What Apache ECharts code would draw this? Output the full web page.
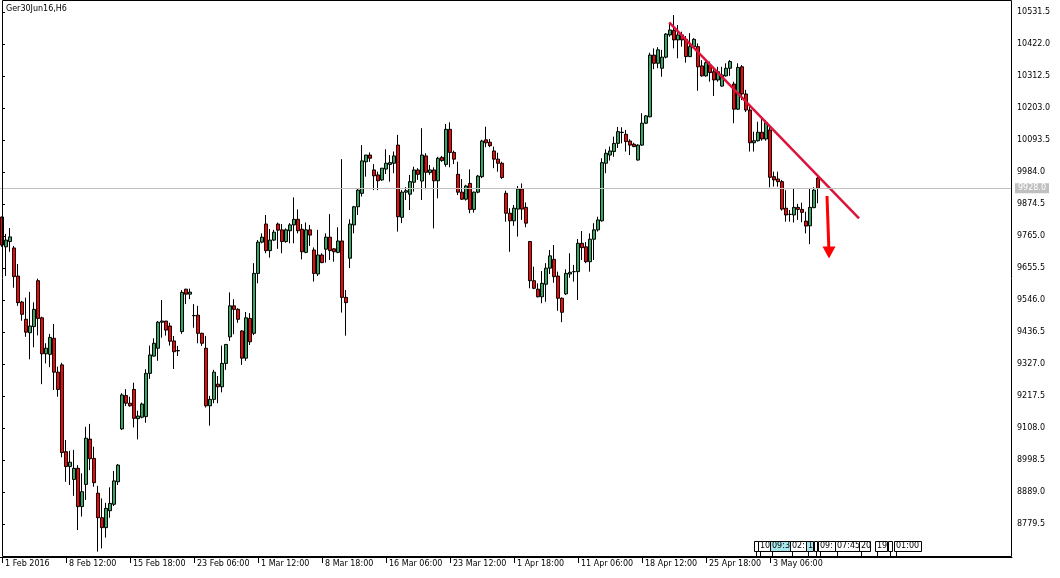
<!DOCTYPE html>
<html><head><meta charset="utf-8">
<script src="https://cdn.jsdelivr.net/npm/echarts@6/dist/echarts.min.js"></script>
<style>html,body{margin:0;padding:0;background:#fff}#c{width:1060px;height:578px}</style>
</head><body><div id="c"></div>
<script>
const chartTitle = "Ger30Jun16,H6";
const tickLabels = ["1 Feb 2016","8 Feb 12:00","15 Feb 18:00","23 Feb 06:00","1 Mar 12:00","8 Mar 18:00","16 Mar 06:00","23 Mar 12:00","1 Apr 18:00","11 Apr 06:00","18 Apr 12:00","25 Apr 18:00","3 May 06:00"];
const barsPerLabel = 16;
const slotCount = 253;
const yTicks = [8779.5,8889.0,8998.5,9108.0,9217.5,9327.0,9436.5,9546.0,9655.5,9765.0,9874.5,9984.0,10093.5,10203.0,10312.5,10422.0,10531.5];
const yMin = 8666.58, yMax = 10569.14;
const lastPrice = 9928.0;
// [open, close, low, high]
const ohlc = [
[9830,9734,9728,9831],[9728,9751,9628,9772],[9746,9762,9711,9792],[9724,9626,9588,9731],[9628,9537,9526,9669],
[9539,9497,9475,9543],[9480,9436,9420,9554],[9434,9457,9343,9574],[9455,9514,9384,9538],[9612,9483,9425,9619],
[9485,9362,9258,9489],[9362,9381,9329,9398],[9360,9418,9316,9430],[9415,9299,9238,9464],[9299,9240,9215,9318],
[9324,9024,9008,9331],[9027,8976,8924,9067],[8976,8991,8913,9030],[8932,8970,8876,9033],[8970,8839,8759,8981],
[8839,8890,8805,8953],[8915,9073,8862,9112],[9070,9003,8964,9122],[9004,8921,8907,9044],[8885,8801,8685,8910],
[8801,8767,8696,8867],[8767,8833,8733,8852],[8825,8850,8801,8905],[8847,8927,8841,8961],[8924,8981,8913,8985],
[9105,9221,9101,9227],[9219,9193,9183,9241],[9193,9184,9181,9215],[9240,9141,9110,9263],[9140,9149,9069,9167],
[9145,9190,9141,9195],[9147,9295,9126,9309],[9295,9358,9276,9390],[9354,9398,9352,9415],[9381,9470,9338,9474],
[9470,9474,9417,9546],[9474,9443,9424,9474],[9457,9405,9390,9468],[9406,9369,9310,9423],[9373,9372,9354,9389],
[9438,9572,9430,9580],[9583,9566,9532,9584],[9566,9573,9549,9585],[9492,9493,9451,9532],[9494,9432,9398,9526],
[9432,9398,9389,9434],[9381,9184,9178,9423],[9184,9206,9116,9218],[9206,9299,9193,9307],[9258,9249,9193,9286],
[9249,9329,9230,9390],[9329,9394,9307,9395],[9420,9526,9406,9572],[9526,9514,9429,9549],[9514,9480,9468,9518],
[9440,9347,9324,9443],[9347,9485,9338,9505],[9483,9403,9392,9501],[9432,9637,9426,9672],[9637,9744,9603,9751],
[9744,9761,9740,9774],[9806,9715,9706,9837],[9715,9751,9691,9789],[9751,9778,9748,9786],[9806,9785,9721,9811],
[9786,9746,9706,9806],[9746,9786,9742,9791],[9783,9803,9740,9809],[9803,9822,9740,9897],[9822,9783,9774,9856],
[9788,9711,9685,9806],[9709,9786,9706,9811],[9786,9768,9731,9803],[9717,9637,9609,9726],[9635,9700,9628,9786],
[9700,9674,9672,9706],[9720,9761,9674,9774],[9761,9715,9683,9840],[9721,9711,9677,9723],[9709,9748,9706,9795],
[9748,9555,9503,10028],[9555,9537,9424,9580],[9689,9806,9655,9822],[9803,9865,9774,9868],[9865,9922,9837,9928],
[9911,10022,9900,10076],[10019,10042,9968,10042],[10042,10031,10019,10051],[9991,9971,9922,10011],[9974,9954,9922,9985],
[9957,9997,9954,9997],[9994,10014,9977,10062],[10010,10016,9951,10042],[10014,10039,9980,10054],[10076,9831,9780,10111],
[9829,9915,9809,9922],[9915,9920,9888,9932],[9908,9951,9854,9974],[9949,9991,9917,10002],[9991,9976,9957,9997],
[9953,10042,9888,10134],[10039,9983,9925,10048],[9982,9991,9974,10008],[9991,9954,9791,10000],[9954,10031,9894,10036],
[10034,10023,10019,10039],[10010,10130,10002,10148],[10130,10051,10000,10154],[10051,10028,10011,10057],[9976,9915,9905,10019],
[9915,9891,9888,9960],[9891,9936,9886,9940],[9945,9856,9843,9993],[9856,9915,9845,9917],[9915,9970,9911,9974],
[9968,10090,9963,10094],[10094,10084,10069,10139],[10086,10074,10069,10097],[10056,10028,9997,10071],[10028,10014,9985,10050],
[10014,9965,9960,10019],[9911,9843,9814,9920],[9843,9817,9711,9860],[9817,9860,9800,9871],[9857,9926,9763,9936],
[9926,9857,9820,9945],[9863,9809,9795,9880],[9746,9612,9586,9748],[9612,9586,9583,9660],[9583,9557,9555,9603],
[9557,9603,9535,9645],[9600,9655,9540,9672],[9655,9697,9635,9717],[9685,9626,9605,9734],[9628,9552,9509,9643],
[9552,9504,9470,9555],[9567,9637,9563,9651],[9635,9641,9622,9706],[9643,9643,9609,9666],[9643,9740,9546,9755],
[9740,9725,9683,9782],[9728,9677,9672,9744],[9677,9754,9643,9774],[9754,9786,9683,9809],[9786,9820,9780,9831],
[9817,10016,9814,10031],[10014,10048,9980,10062],[10042,10056,10023,10071],[10054,10082,10036,10105],[10082,10122,10066,10138],
[10119,10120,10082,10137],[10113,10088,10054,10128],[10090,10076,10042,10096],[10079,10071,10069,10084],[10025,10076,10023,10079],
[10076,10151,10073,10185],[10151,10176,10148,10179],[10173,10384,10171,10392],[10384,10356,10336,10407],[10356,10402,10339,10411],
[10339,10377,10310,10402],[10377,10456,10373,10459],[10453,10470,10447,10493],[10468,10436,10407,10521],[10436,10453,10373,10487],
[10453,10436,10413,10464],[10438,10379,10358,10449],[10379,10413,10377,10459],[10413,10438,10411,10442],[10413,10344,10262,10424],
[10347,10313,10310,10367],[10313,10358,10310,10367],[10350,10324,10293,10362],[10327,10299,10244,10339],[10299,10327,10293,10344],
[10278,10316,10276,10344],[10313,10339,10310,10356],[10339,10362,10313,10367],[10285,10199,10151,10293],[10199,10342,10196,10356],
[10344,10251,10230,10350],[10251,10196,10189,10265],[10196,10084,10054,10213],[10084,10091,10054,10122],[10091,10120,10088,10156],
[10120,10097,10091,10168],[10097,10153,10091,10162],[10128,9966,9932,10145],[9968,9957,9934,9985],[9960,9951,9934,9985],
[9951,9857,9852,9957],[9860,9837,9814,9922],[9839,9839,9814,9854],[9837,9863,9811,9928],[9863,9856,9820,9875],
[9856,9846,9812,9879],[9816,9799,9774,9848],[9800,9863,9737,9928],[9862,9922,9860,9932],[9963,9928,9877,9968]
];
// trend line and arrow, in [bar index, price]
const trendLine = [[166.8,10496.3],[214.25,9825.6]];
const arrowLine = [[206.25,9901.9],[206.75,9708.6]];
const timeTags = ["","10","09:3","02:","1","","09:","07:45","20","19","","01:00"];

const categories = Array.from({length: slotCount}, (_, i) => String(i));
const isLabelIdx = (i) => i % barsPerLabel === 0 && (i / barsPerLabel) < tickLabels.length;
const FONT = 'DejaVu Sans';

const tagGeom = [[754,4,0],[758,12,0],[770,20,1],[790,16,0],[806,7,1],[814,3,0],[818,17,0],[835,24,0],[859,11,0],[875,12,0],[888,4,0],[894,27,0]];
const graphics = [
  {type:'text', left:6, top:5, style:{text:chartTitle, font:'8px "DejaVu Sans"', fill:'#000'}},
  {type:'rect', shape:{x:2.5, y:0.5, width:1009, height:556}, style:{fill:'none', stroke:'#000', lineWidth:1}, z:100}
];
tagGeom.forEach((g, i) => {
  graphics.push({type:'rect', shape:{x:g[0]+0.5, y:541.5, width:g[1], height:10}, style:{fill: g[2] ? '#a6e6ec' : '#fff', stroke:'#000', lineWidth:1}, z:101});
  if (timeTags[i]) graphics.push({type:'text', x:g[0]+2, y:542, style:{text:timeTags[i], font:'8px "DejaVu Sans"', fill:'#000'}, z:102});
  graphics.push({type:'line', shape:{x1:g[0]+2.5, y1:551.5, x2:g[0]+2.5, y2:556}, style:{stroke:'#000', lineWidth:1}, z:101});
});

const chart = echarts.init(document.getElementById('c'), null, {renderer:'canvas'});
chart.setOption({
  animation:false,
  backgroundColor:'#fff',
  graphic: graphics,
  grid:{left:0, right:48, top:1, bottom:21, containLabel:false},
  xAxis:[{
    type:'category', data:categories, boundaryGap:true,
    axisLine:{show:true, lineStyle:{color:'#000', width:1}},
    axisTick:{show:true, alignWithLabel:true, length:6, interval:(i)=>isLabelIdx(i), lineStyle:{color:'#000'}},
    axisLabel:{show:true, interval:(i)=>isLabelIdx(i), formatter:(v,i)=>isLabelIdx(i)?tickLabels[i/barsPerLabel]:'',
      align:'left', margin:3, padding:[0,0,0,3], color:'#000', fontFamily:FONT, fontSize:8},
    splitLine:{show:false}
  },{
    type:'value', min:-0.5, max:slotCount-0.5, show:false
  }],
  yAxis:{
    type:'value', position:'right', min:yMin, max:yMax, scale:true,
    axisLine:{show:false},
    axisTick:{show:true, length:3, customValues:yTicks, lineStyle:{color:'#000'}},
    axisLabel:{show:true, customValues:yTicks, formatter:(v)=>v.toFixed(1), margin:5, color:'#000', fontFamily:FONT, fontSize:8},
    splitLine:{show:false}
  },
  series:[{
    type:'candlestick', xAxisIndex:0, data:ohlc, barWidth:3,
    itemStyle:{color:'#2ea862', color0:'#ff0000', borderColor:'#000', borderColor0:'#000', borderColorDoji:'#000', borderWidth:1},
    emphasis:{disabled:true},
    markLine:{silent:true, symbol:'none', animation:false,
      data:[{yAxis:lastPrice}],
      lineStyle:{color:'#c0c0c0', width:1, type:'solid'},
      label:{show:true, position:'end', formatter:lastPrice.toFixed(1), backgroundColor:'#c0c0c0', color:'#fff', padding:[1,3,1,3], fontFamily:FONT, fontSize:8, distance:3}
    }
  },{
    type:'line', xAxisIndex:1, data:trendLine, symbol:'none', silent:true,
    lineStyle:{color:'#dc143c', width:2.5}
  },{
    type:'line', xAxisIndex:1, data:arrowLine, symbol:'none', silent:true,
    lineStyle:{color:'#ff0000', width:3},
    markPoint:{silent:true, data:[{coord:arrowLine[1], symbol:'triangle', symbolSize:[13,12], symbolRotate:180}],
      itemStyle:{color:'#ff0000'}, label:{show:false}}
  }]
});
</script></body></html>
